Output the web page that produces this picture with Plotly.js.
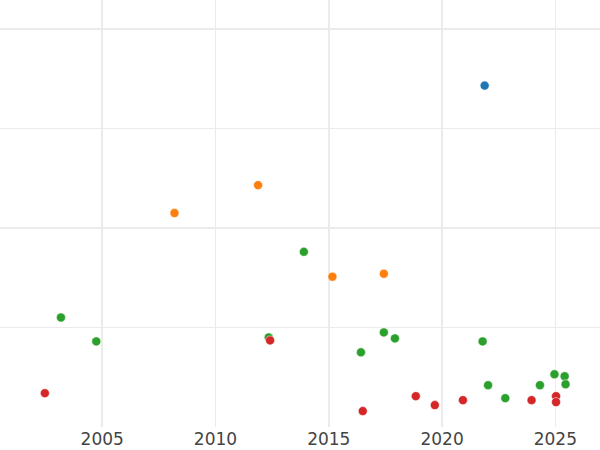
<!DOCTYPE html>
<html>
<head>
<meta charset="utf-8">
<script src="https://cdn.plot.ly/plotly-3.0.1.min.js"></script>
<style>html,body{margin:0;padding:0;background:#fff;}#chart{width:600px;height:450px;}</style>
</head>
<body>
<div id="chart"></div>
<script>
// Series values (x = year, y = value in chart units)
var blueX = [2021.88];
var blueY = [4.43];

var orangeX = [2008.19, 2011.88, 2015.16, 2017.43];
var orangeY = [3.15, 3.43, 2.51, 2.54];

var greenX = [2003.18, 2004.74, 2012.35, 2013.90, 2016.42, 2017.43, 2017.92, 2021.79, 2022.03, 2022.79, 2024.32, 2024.96, 2025.41, 2025.45];
var greenY = [2.10, 1.86, 1.90, 2.76, 1.75, 1.95, 1.89, 1.86, 1.42, 1.29, 1.42, 1.53, 1.51, 1.43];

var redX = [2002.47, 2012.41, 2016.50, 2018.84, 2019.68, 2020.92, 2023.95, 2025.03, 2025.03];
var redY = [1.34, 1.87, 1.16, 1.31, 1.22, 1.27, 1.27, 1.31, 1.25];

var xTicks = [2005, 2010, 2015, 2020, 2025];

function series(x, y, color) {
  return {
    type: 'scatter', mode: 'markers', x: x, y: y,
    marker: {color: color, size: 9, line: {width: 0.5, color: '#ffffff'}},
    showlegend: false, hoverinfo: 'x+y'
  };
}

var data = [
  series(blueX, blueY, '#1f77b4'),
  series(orangeX, orangeY, '#ff7f0e'),
  series(greenX, greenY, '#2ca02c'),
  series(redX, redY, '#d62728')
];

var layout = {
  width: 600, height: 450,
  margin: {l: 0, r: 0, t: 0, b: 23, pad: 0},
  paper_bgcolor: '#ffffff', plot_bgcolor: '#ffffff',
  font: {family: 'DejaVu Sans', size: 17, color: '#444444'},
  xaxis: {
    range: [2000.49, 2026.97],
    tickvals: xTicks, ticktext: xTicks.map(String),
    showgrid: true, gridcolor: '#ebebeb', gridwidth: 1.5,
    zeroline: false, showline: false, ticks: '',
    tickfont: {size: 17, color: '#444444'}
  },
  yaxis: {
    range: [1.0, 5.29],
    dtick: 1, tick0: 0,
    showgrid: true, gridcolor: '#ebebeb', gridwidth: 1.5,
    zeroline: false, showline: false, ticks: '',
    showticklabels: false
  }
};

Plotly.newPlot('chart', data, layout, {displayModeBar: false, staticPlot: true});
</script>
</body>
</html>
